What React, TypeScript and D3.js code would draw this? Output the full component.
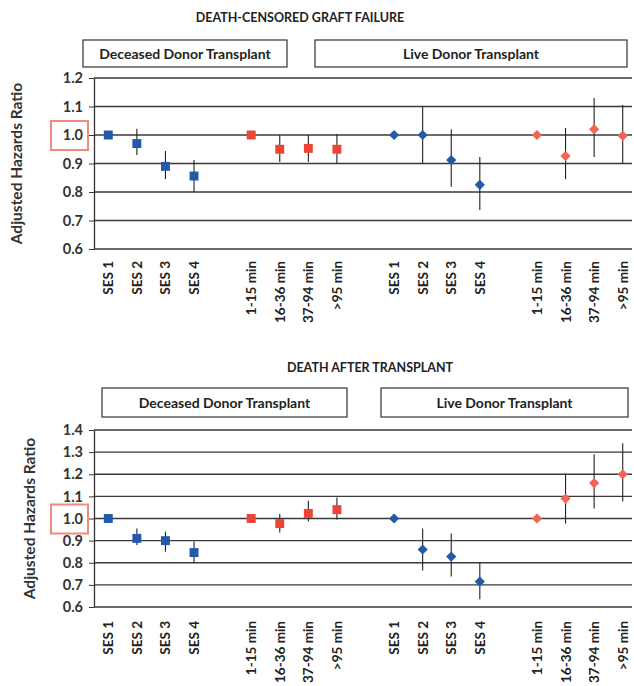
import React, { useEffect, useRef } from "react";
import * as d3 from "d3";

const categories = ["SES 1", "SES 2", "SES 3", "SES 4", "1-15 min", "16-36 min", "37-94 min", ">95 min"];
const groups = ["Deceased Donor Transplant", "Live Donor Transplant"];

// death-censored graft failure
const graftDeceasedHr = [1.0, 0.97, 0.89, 0.856, 1.0, 0.95, 0.953, 0.95];
const graftDeceasedLo = [null, 0.93, 0.846, 0.8, null, 0.905, 0.905, 0.9];
const graftDeceasedHi = [null, 1.022, 0.944, 0.912, null, 1.0, 1.0, 1.003];
const graftLiveHr = [1.0, 1.0, 0.912, 0.825, 1.0, 0.926, 1.02, 0.997];
const graftLiveLo = [null, 0.9, 0.818, 0.737, null, 0.845, 0.923, 0.9];
const graftLiveHi = [null, 1.1, 1.02, 0.923, null, 1.025, 1.13, 1.105];

// death after transplant
const deathDeceasedHr = [1.0, 0.91, 0.9, 0.846, 1.0, 0.977, 1.023, 1.04];
const deathDeceasedLo = [null, 0.88, 0.85, 0.8, null, 0.937, 0.986, 0.995];
const deathDeceasedHi = [null, 0.955, 0.94, 0.896, null, 1.02, 1.08, 1.095];
const deathLiveHr = [1.0, 0.86, 0.828, 0.715, 1.0, 1.09, 1.16, 1.2];
const deathLiveLo = [null, 0.765, 0.738, 0.635, null, 0.977, 1.045, 1.077];
const deathLiveHi = [null, 0.955, 0.932, 0.8, null, 1.2, 1.29, 1.34];

const graftTicks = [0.6, 0.7, 0.8, 0.9, 1.0, 1.1, 1.2];
const deathTicks = [0.6, 0.7, 0.8, 0.9, 1.0, 1.1, 1.2, 1.3, 1.4];

const BLUE = "#2458a8";
const RED = "#ee4434";
const FONT = "Lato, 'Open Sans', sans-serif";

// slot keys: 4 SES, gap, 4 time, gap, 4 SES, gap, 4 time
const slots: string[] = [];
groups.forEach((g, gi) => {
  categories.forEach((c, ci) => {
    if (ci === 4) slots.push(`gap-${gi}-a`);
    slots.push(`${gi}|${c}`);
  });
  if (gi === 0) slots.push("gap-mid");
});

const App = () => {
  const ref = useRef<SVGSVGElement>(null);

  useEffect(() => {
    const svg = d3.select(ref.current);
    svg.selectAll("*").remove();

    const x = d3.scaleBand().domain(slots).range([94, 637]);

    const panel = (opt: any) => {
      const g = svg.append("g");
      const y = d3.scaleLinear().domain([0.6, opt.max]).range([opt.bottom, opt.top]);

      g.append("text")
        .attr("x", opt.titleX).attr("y", opt.titleY)
        .attr("text-anchor", "middle")
        .style("font", `bold 12.5px ${FONT}`).attr("fill", "#222")
        .text(opt.title);

      opt.boxes.forEach((b: number[], i: number) => {
        g.append("rect")
          .attr("x", b[0]).attr("y", b[1]).attr("width", b[2] - b[0]).attr("height", b[3] - b[1])
          .attr("fill", "none").attr("stroke", "#333").attr("stroke-width", 1.2);
        g.append("text")
          .attr("x", (b[0] + b[2]) / 2).attr("y", (b[1] + b[3]) / 2 + 5)
          .attr("text-anchor", "middle")
          .style("font", `bold 14px ${FONT}`).attr("fill", "#222")
          .text(groups[i]);
      });

      // gridlines
      g.selectAll(".grid")
        .data(opt.ticks)
        .join("line")
        .attr("x1", 94).attr("x2", 632)
        .attr("y1", (d: number) => y(d)).attr("y2", (d: number) => y(d))
        .attr("stroke", "#3a3a3a").attr("stroke-width", 1.3);

      const axis = d3.axisLeft(y).tickValues(opt.ticks).tickFormat(d3.format(".1f")).tickSize(5).tickSizeOuter(0);
      const ga = g.append("g").attr("transform", "translate(94,0)").call(axis);
      ga.select(".domain").attr("stroke", "#333").attr("stroke-width", 1.3);
      ga.selectAll("line").attr("stroke", "#333");
      ga.selectAll("text").style("font", `bold 14.5px ${FONT}`).attr("fill", "#333").attr("dx", "-3");

      g.append("text")
        .attr("transform", `translate(${opt.labelX},${(opt.top + opt.bottom) / 2}) rotate(-90)`)
        .attr("text-anchor", "middle")
        .style("font", `bold 15.5px ${FONT}`).attr("fill", "#333")
        .text("Adjusted Hazards Ratio");

      g.append("rect")
        .attr("x", 51).attr("y", y(1.0) - 14).attr("width", 37).attr("height", 29)
        .attr("fill", "none").attr("stroke", "#f08a7c").attr("stroke-width", 2);

      const xc = (gi: number, ci: number) => (x(`${gi}|${categories[ci]}`) as number) + x.bandwidth() / 2;

      // category labels
      groups.forEach((_, gi) => {
        categories.forEach((c, ci) => {
          g.append("text")
            .attr("transform", `translate(${xc(gi, ci) + 5},${opt.labelTop}) rotate(-90)`)
            .attr("text-anchor", "end")
            .style("font", `bold 13.5px ${FONT}`).attr("fill", "#222")
            .text(c);
        });
      });

      opt.series.forEach((s: any, gi: number) => {
        categories.forEach((_, ci) => {
          const cx = xc(gi, ci);
          if (s.lo[ci] != null) {
            g.append("line")
              .attr("x1", cx).attr("x2", cx)
              .attr("y1", y(s.lo[ci])).attr("y2", y(s.hi[ci]))
              .attr("stroke", "#222").attr("stroke-width", 1.1);
          }
          const color = ci < 4 ? BLUE : gi === 0 ? RED : "#f26555";
          const sym = d3.symbol().type(d3.symbolSquare).size(gi === 0 ? 80 : 52);
          g.append("path")
            .attr("transform", `translate(${cx},${y(s.hr[ci])})${gi === 1 ? " rotate(45)" : ""}`)
            .attr("d", sym() as string)
            .attr("fill", color);
        });
      });
    };

    panel({
      title: "DEATH-CENSORED GRAFT FAILURE",
      titleX: 300, titleY: 22,
      boxes: [[83, 40, 287, 67], [315, 40, 627, 67]],
      max: 1.2, top: 78, bottom: 249, ticks: graftTicks,
      labelX: 22, labelTop: 261,
      series: [
        { hr: graftDeceasedHr, lo: graftDeceasedLo, hi: graftDeceasedHi },
        { hr: graftLiveHr, lo: graftLiveLo, hi: graftLiveHi },
      ],
    });

    panel({
      title: "DEATH AFTER TRANSPLANT",
      titleX: 370, titleY: 372,
      boxes: [[102, 388, 347, 417], [381, 388, 628, 417]],
      max: 1.4, top: 430, bottom: 607, ticks: deathTicks,
      labelX: 35, labelTop: 621,
      series: [
        { hr: deathDeceasedHr, lo: deathDeceasedLo, hi: deathDeceasedHi },
        { hr: deathLiveHr, lo: deathLiveLo, hi: deathLiveHi },
      ],
    });
  });

  return (
    <svg ref={ref} width={634} height={686} style={{ position: "absolute", left: 0, top: 0, background: "#fff" }}></svg>
  );
};

export default App;
